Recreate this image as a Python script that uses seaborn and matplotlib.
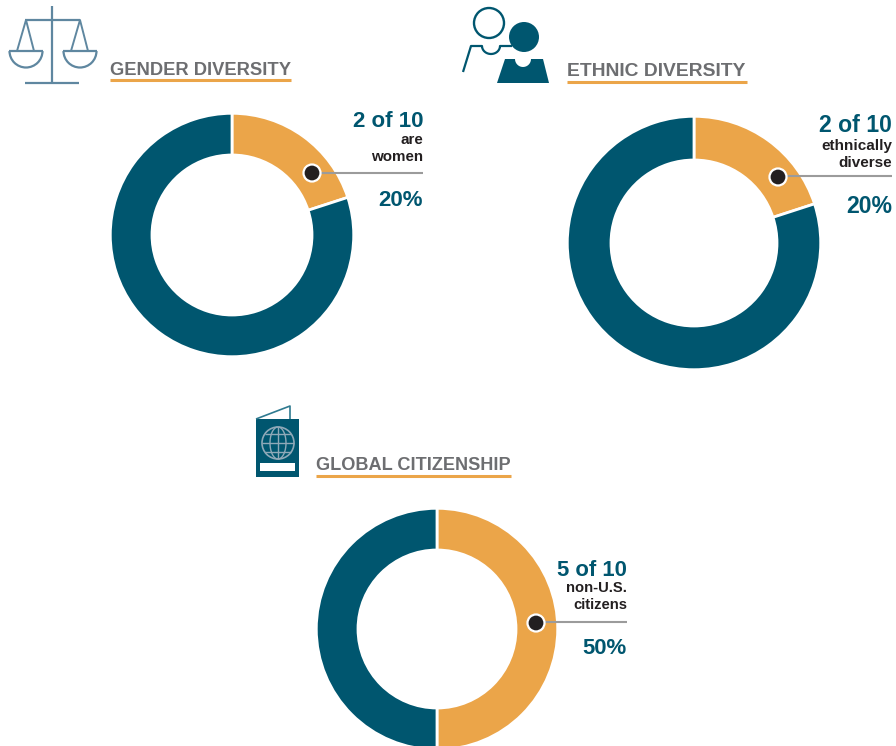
import numpy as np
import seaborn as sns
from matplotlib import pyplot as plt
from matplotlib.patches import Arc, Circle, Polygon, Rectangle

titles = ["GENDER DIVERSITY", "ETHNIC DIVERSITY", "GLOBAL CITIZENSHIP"]
counts = ["2 of 10", "2 of 10", "5 of 10"]
notes = [["are", "women"], ["ethnically", "diverse"], ["non-U.S.", "citizens"]]
share_orange = [20, 20, 50]
share_blue = [80, 80, 50]
pct_txt = ["20%", "20%", "50%"]

ORANGE = "#eba549"
BLUE = "#00566f"
GREY = "#6d6e71"
STEEL = "#5f87a0"
DARK = "#231f20"
LINE = "#9b9b9b"
GLOBE = "#8fa9b8"

sns.set_theme(style="white")
plt.rcParams["font.family"] = ["Liberation Sans", "DejaVu Sans"]

W, H = 896, 746
fig = plt.figure(figsize=(W / 100, H / 100), dpi=100)
ax = fig.add_axes([0, 0, 1, 1])


def Y(y):
    # picture is measured from the top
    return H - y


def poly(pts, **kw):
    ax.add_patch(Polygon([(x, Y(y)) for x, y in pts], **kw))


def line(xs, ys, color, lw, **kw):
    ax.plot(xs, [Y(y) for y in ys], color=color, lw=lw, solid_capstyle="butt", **kw)


# layout per chart
centers = [(232, 235), (694, 243), (437, 629)]
radii = [121.7, 126.7, 120.7]
holes = [80, 83, 79]
title_pos = [(110, 75), (567, 76.5), (316, 470)]
title_size = [13.2, 13.9, 13.1]
under = [(110, 291, 80), (567, 747, 82), (316, 511, 476)]
dots = [(312, 173), (778, 177), (536, 623)]
line_y = [172.5, 175.5, 622]
line_end = [423, 892, 627]
count_y = [127, 132, 575.5]
count_size = [16, 16.6, 15.9]
note_y = [[144, 161], [150, 167], [592, 609]]
note_size = [10.9, 11, 10.6]
pct_y = [205.5, 213, 653.5]

for i in range(3):
    cx, cy = centers[i]
    ax.pie(
        [share_orange[i], share_blue[i]],
        colors=[ORANGE, BLUE],
        center=(cx, Y(cy)),
        radius=radii[i],
        startangle=90,
        counterclock=False,
        frame=True,
        wedgeprops=dict(width=radii[i] - holes[i], edgecolor="white", linewidth=2),
    )
    ax.text(title_pos[i][0], Y(title_pos[i][1]), titles[i], fontsize=title_size[i], fontweight="bold",
            color=GREY, ha="left", va="baseline")
    line(under[i][:2], [under[i][2]] * 2, ORANGE, 2.2)

    dx, dy = dots[i]
    line([dx, line_end[i]], [line_y[i], line_y[i]], LINE, 1.5)
    ax.add_patch(Circle((dx, Y(dy)), 8.5, fc=DARK, ec="white", lw=1.6, zorder=5))

    r = line_end[i]
    ax.text(r, Y(count_y[i]), counts[i], fontsize=count_size[i], fontweight="bold", color=BLUE,
            ha="right", va="baseline")
    for n, ny in zip(notes[i], note_y[i]):
        ax.text(r, Y(ny), n, fontsize=note_size[i], fontweight="bold", color=DARK, ha="right", va="baseline")
    ax.text(r, Y(pct_y[i]), pct_txt[i], fontsize=count_size[i], fontweight="bold", color=BLUE,
            ha="right", va="baseline")

ax.set_xlim(0, W)
ax.set_ylim(0, H)
ax.set_aspect("equal")
ax.axis("off")

# scales icon
line([52, 52], [6, 83], STEEL, 1.6)
line([25, 80], [20, 20], STEEL, 1.6)
line([25, 79], [83, 83], STEEL, 1.6)
for px in (26, 80):
    line([px - 17, px + 17], [51, 51], STEEL, 1.6)
    line([px - 9, px, px + 8], [51, 20, 51], STEEL, 1.4)
    ax.add_patch(Arc((px, Y(51)), 33, 33, theta1=180, theta2=360, color=STEEL, lw=1.6))

# people icon
ax.add_patch(Circle((489, Y(23)), 15, fc="none", ec=BLUE, lw=1.7))
ax.add_patch(Circle((524, Y(37)), 15, fc=BLUE, ec="none"))
t = np.linspace(np.pi, 2 * np.pi, 20)
xs = [463, 471, 482] + list(491 + 9 * np.cos(t)) + [512]
ys = [72, 46, 46] + list(46 - 8 * np.sin(t)) + [46]
line(xs, ys, BLUE, 1.6)
poly([(505, 59), (515, 59)] + [(523 + 8 * np.cos(a), 59 - 8 * np.sin(a)) for a in t] + [(543, 59), (549, 83), (497, 83)],
     fc=BLUE, ec="none")

# passport icon
line([256, 290, 290], [419, 406, 419], "#2f7a90", 1.2)
ax.add_patch(Rectangle((256, Y(477)), 43, 58, fc=BLUE, ec="none"))
ax.add_patch(Circle((278, Y(443)), 16, fc="none", ec=GLOBE, lw=1.2))
for off in (-9, 0, 9):
    half = np.sqrt(16 ** 2 - off ** 2)
    line([278 - half, 278 + half], [443 + off] * 2, GLOBE, 1.0)
tt = np.linspace(-np.pi / 2, np.pi / 2, 30)
for side in (-1, 1):
    line(278 + side * 8 * np.cos(tt), 443 + 16 * np.sin(tt), GLOBE, 1.0)
line([278, 278], [427, 459], GLOBE, 1.0)
ax.add_patch(Rectangle((260, Y(471)), 35, 8, fc="white", ec="none"))

fig.savefig("out.png", dpi=100)
